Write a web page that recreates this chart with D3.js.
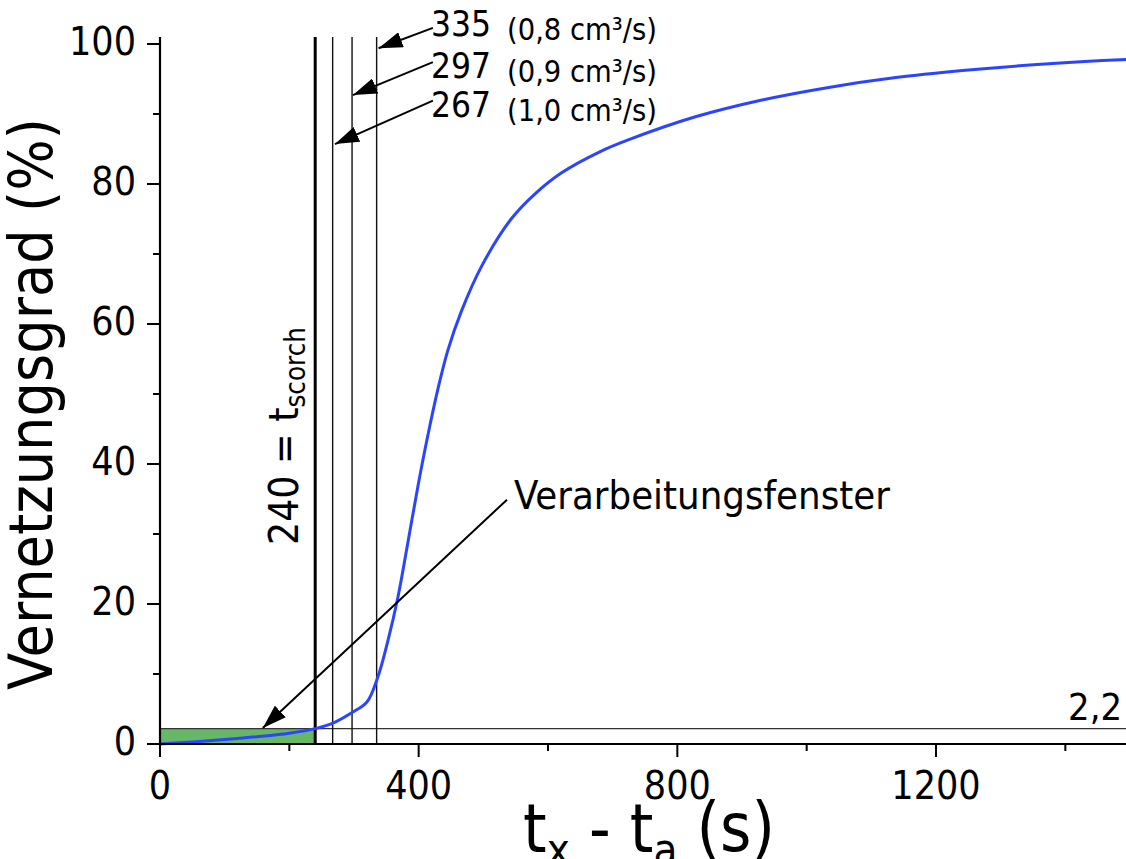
<!DOCTYPE html>
<html>
<head>
<meta charset="utf-8">
<script src="https://cdn.jsdelivr.net/npm/d3@7"></script>
<style>
  html, body { margin: 0; padding: 0; background: #fff; }
  svg { display: block; font-family: "DejaVu Sans Condensed", "DejaVu Sans", sans-serif; }
</style>
</head>
<body>
<svg id="chart" width="1126" height="859"></svg>
<script>
// ---- data ----
const curveT = [0, 50, 100, 150, 200, 240, 270, 297, 320, 337, 352, 368, 383, 399, 414, 430, 445, 466, 497, 543, 580, 621, 680, 724, 828, 931, 1034, 1138, 1241, 1345, 1430, 1500];
const curveV = [0, 0.3, 0.65, 1.05, 1.55, 2.2, 3.1, 4.5, 6.0, 9.6, 14.6, 21.0, 28.6, 36.9, 44.0, 50.8, 56.2, 61.8, 68.2, 75.0, 78.6, 81.6, 84.6, 86.3, 89.6, 92.0, 93.8, 95.2, 96.2, 97.0, 97.5, 97.8];
const scorchTime = 240;
const markerTimes = [267, 297, 335];
const markerFlows = ["(1,0 cm³/s)", "(0,9 cm³/s)", "(0,8 cm³/s)"];
const thresholdLevel = 2.2;
const xMajorTicks = [0, 400, 800, 1200];
const xMinorTicks = [200, 600, 1000, 1400];
const yMajorTicks = [0, 20, 40, 60, 80, 100];
const yMinorTicks = [10, 30, 50, 70, 90];

const svg = d3.select("#chart");
const x = d3.scaleLinear().domain([0, 1500]).range([160, 1130]);
const y = d3.scaleLinear().domain([0, 101]).range([744, 37]);

// defs: arrow head
svg.append("defs").append("marker")
  .attr("id", "arrow").attr("markerUnits", "userSpaceOnUse")
  .attr("viewBox", "0 0 24 16").attr("refX", 24).attr("refY", 8)
  .attr("markerWidth", 24).attr("markerHeight", 16).attr("orient", "auto")
  .append("path").attr("d", "M0,0 L24,8 L0,16 Z").attr("fill", "#000");

// green processing window
svg.append("rect")
  .attr("x", x(0)).attr("y", y(thresholdLevel))
  .attr("width", x(scorchTime) - x(0)).attr("height", y(0) - y(thresholdLevel))
  .attr("fill", "#66b866");

// threshold line
svg.append("line")
  .attr("x1", x(0)).attr("x2", x(1500))
  .attr("y1", y(thresholdLevel)).attr("y2", y(thresholdLevel))
  .attr("stroke", "#333").attr("stroke-width", 1.2);

// vertical lines
svg.append("line")
  .attr("x1", x(scorchTime)).attr("x2", x(scorchTime))
  .attr("y1", y(0)).attr("y2", y(101))
  .attr("stroke", "#000").attr("stroke-width", 3);
svg.selectAll(".vline").data(markerTimes).enter().append("line")
  .attr("x1", d => x(d)).attr("x2", d => x(d))
  .attr("y1", y(0)).attr("y2", y(101))
  .attr("stroke", "#111").attr("stroke-width", 1.4);

// curve
const pts = curveT.map((t, i) => [t, curveV[i]]);
svg.append("path").datum(pts)
  .attr("fill", "none").attr("stroke", "#2b45ff").attr("stroke-width", 3)
  .attr("d", d3.line().x(d => x(d[0])).y(d => y(d[1])).curve(d3.curveCatmullRom.alpha(0.5)));

// axes
const gx = svg.append("g").attr("transform", `translate(0,${y(0)})`);
gx.append("line").attr("x1", x(0) - 1).attr("x2", 1126).attr("stroke", "#000").attr("stroke-width", 2.2);
gx.selectAll(".maj").data(xMajorTicks).enter().append("line")
  .attr("x1", d => x(d)).attr("x2", d => x(d)).attr("y1", 0).attr("y2", 13)
  .attr("stroke", "#000").attr("stroke-width", 2);
gx.selectAll(".min").data(xMinorTicks).enter().append("line")
  .attr("x1", d => x(d)).attr("x2", d => x(d)).attr("y1", 0).attr("y2", 7)
  .attr("stroke", "#000").attr("stroke-width", 2);
gx.selectAll(".lab").data(xMajorTicks).enter().append("text")
  .attr("x", d => x(d)).attr("y", 55).attr("text-anchor", "middle")
  .attr("font-size", 39).attr("fill", "#000").text(d => d);

const gy = svg.append("g").attr("transform", `translate(${x(0)},0)`);
gy.append("line").attr("y1", y(0) + 1).attr("y2", y(101)).attr("stroke", "#000").attr("stroke-width", 2.2);
gy.selectAll(".maj").data(yMajorTicks).enter().append("line")
  .attr("y1", d => y(d)).attr("y2", d => y(d)).attr("x1", 0).attr("x2", -13)
  .attr("stroke", "#000").attr("stroke-width", 2);
gy.selectAll(".min").data(yMinorTicks).enter().append("line")
  .attr("y1", d => y(d)).attr("y2", d => y(d)).attr("x1", 0).attr("x2", -7)
  .attr("stroke", "#000").attr("stroke-width", 2);
gy.selectAll(".lab").data(yMajorTicks).enter().append("text")
  .attr("x", -24).attr("y", d => y(d) + 11).attr("text-anchor", "end")
  .attr("font-size", 39).attr("fill", "#000").text(d => d);

// fit helper
function fit(textSel, target) {
  const node = textSel.node();
  const len = node.getComputedTextLength();
  const fs = parseFloat(textSel.attr("font-size"));
  textSel.attr("font-size", fs * target / len);
}

// axis titles
const yt = svg.append("text")
  .attr("transform", `translate(52,404) rotate(-90)`)
  .attr("text-anchor", "middle").attr("font-size", 50).attr("fill", "#000")
  .text("Vernetzungsgrad (%)");
fit(yt, 572);

const xt = svg.append("text")
  .attr("x", 649).attr("y", 852).attr("text-anchor", "middle")
  .attr("font-size", 50).attr("fill", "#000");
xt.append("tspan").text("t");
xt.append("tspan").attr("font-size", "0.65em").attr("dy", "0.3em").text("x");
xt.append("tspan").attr("dy", "-0.2em").text(" - t");
xt.append("tspan").attr("font-size", "0.65em").attr("dy", "0.3em").text("a");
xt.append("tspan").attr("dy", "-0.2em").text(" (s)");
fit(xt, 252);

// scorch label
const st = svg.append("text")
  .attr("transform", `translate(298,545) rotate(-90)`)
  .attr("font-size", 44).attr("fill", "#000");
st.append("tspan").text("240 = t");
st.append("tspan").attr("font-size", "0.68em").attr("dy", "0.25em").text("scorch");
fit(st, 218);

// marker annotations
const annY = [91.9, 97.4, 102.3];   // arrow tail levels (data units)
const tipT = [270.6, 298.4, 338];
const tipV = [85.7, 92.7, 99.4];
const labelBase = [117, 78, 36];
markerTimes.forEach((m, i) => {
  svg.append("line")
    .attr("x1", x(422)).attr("y1", y(annY[i]))
    .attr("x2", x(tipT[i])).attr("y2", y(tipV[i]))
    .attr("stroke", "#000").attr("stroke-width", 2)
    .attr("marker-end", "url(#arrow)");
  svg.append("text").attr("x", 431).attr("y", labelBase[i])
    .attr("font-size", 35).attr("fill", "#000").text(m);
  const t2 = svg.append("text").attr("x", 507).attr("y", labelBase[i] + 4)
    .attr("font-size", 24).attr("fill", "#000").text(markerFlows[i]);
  fit(t2, 150);
});

// Verarbeitungsfenster annotation
svg.append("line")
  .attr("x1", x(536.6)).attr("y1", y(34.9))
  .attr("x2", x(159)).attr("y2", y(2.3))
  .attr("stroke", "#000").attr("stroke-width", 2)
  .attr("marker-end", "url(#arrow)");
const vt = svg.append("text").attr("x", 514).attr("y", 509)
  .attr("font-size", 40).attr("fill", "#000").text("Verarbeitungsfenster");
fit(vt, 376);

// threshold label
const tl = svg.append("text").attr("x", 1122).attr("y", 720).attr("text-anchor", "end")
  .attr("font-size", 36).attr("fill", "#000").text("2,2");
fit(tl, 54);
</script>
</body>
</html>
